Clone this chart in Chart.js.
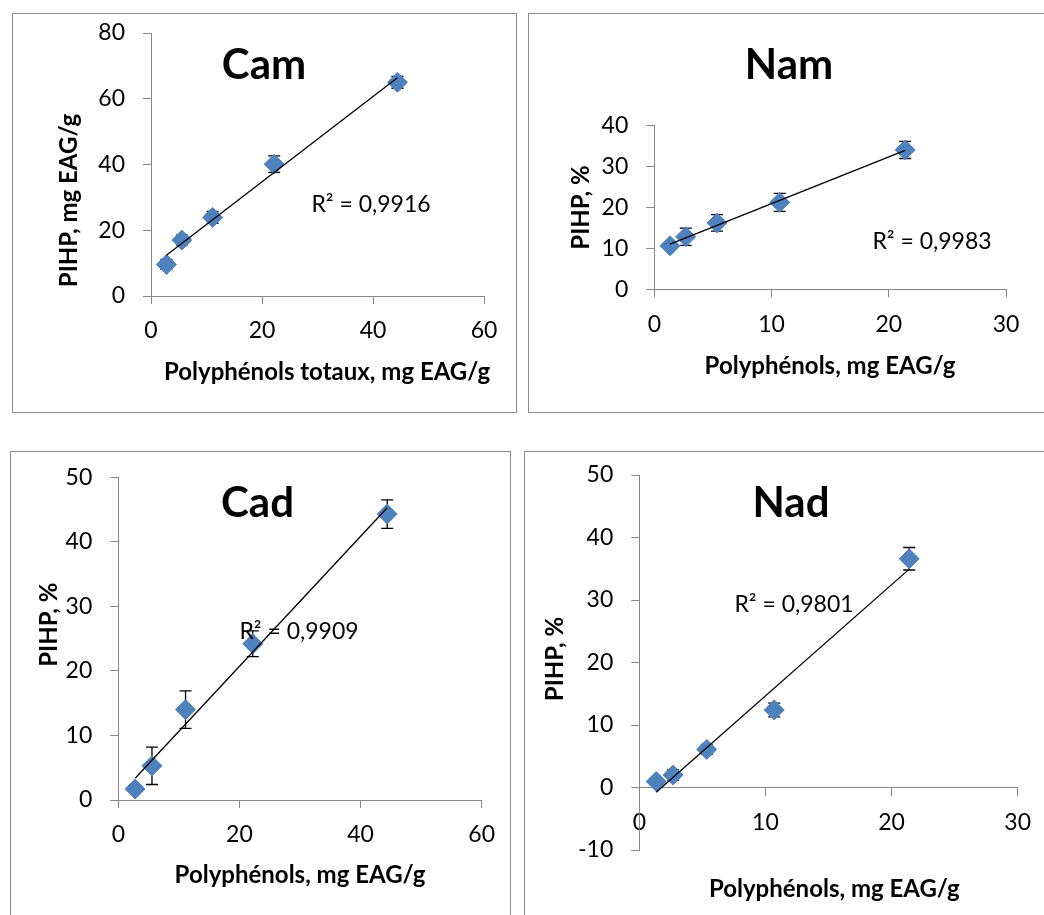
<!DOCTYPE html>
<html><head><meta charset="utf-8">
<script src="https://cdn.jsdelivr.net/npm/chart.js@4.4.1/dist/chart.umd.min.js"></script>
<style>
html,body{margin:0;padding:0;background:#fff;width:1044px;height:915px;overflow:hidden;}
.panel{position:absolute;box-sizing:border-box;border:1px solid #8c8c8c;background:#fff;}
canvas{position:absolute;left:0;top:0;}
</style></head><body>
<div class="panel" style="left:12px;top:13px;width:505px;height:400px"></div>
<div class="panel" style="left:528px;top:13px;width:530px;height:400px"></div>
<div class="panel" style="left:10px;top:451px;width:501px;height:500px"></div>
<div class="panel" style="left:524px;top:451px;width:540px;height:500px"></div>
<canvas id="cam" width="1044" height="915"></canvas>
<canvas id="nam" width="1044" height="915"></canvas>
<canvas id="cad" width="1044" height="915"></canvas>
<canvas id="nad" width="1044" height="915"></canvas>
<script>
// ---- data ----
const camX = [2.78, 5.56, 11.1, 22.2, 44.4];
const camY = [9.6, 17.0, 23.9, 40.1, 65.0];
const camErr = [1.5, 1.5, 1.8, 2.5, 1.8];
const namX = [1.34, 2.68, 5.35, 10.7, 21.4];
const namY = [10.6, 12.8, 16.2, 21.2, 34.0];
const namErr = [0.5, 2.1, 2.0, 2.2, 2.1];
const cadX = [2.78, 5.56, 11.1, 22.2, 44.4];
const cadY = [1.7, 5.3, 14.0, 24.2, 44.3];
const cadErr = [0.5, 2.9, 2.9, 2.0, 2.2];
const nadX = [1.34, 2.68, 5.35, 10.7, 21.4];
const nadY = [0.96, 2.0, 6.1, 12.4, 36.6];
const nadErr = [0.5, 0.8, 0.8, 1.1, 1.8];

const camXTicks = [0, 20, 40, 60];
const camYTicks = [0, 20, 40, 60, 80];
const namXTicks = [0, 10, 20, 30];
const namYTicks = [0, 10, 20, 30, 40];
const cadXTicks = [0, 20, 40, 60];
const cadYTicks = [0, 10, 20, 30, 40, 50];
const nadXTicks = [0, 10, 20, 30];
const nadYTicks = [-10, 0, 10, 20, 30, 40, 50];

const titles = ['Cam', 'Nam', 'Cad', 'Nad'];
const r2Labels = ['R² = 0,9916', 'R² = 0,9983', 'R² = 0,9909', 'R² = 0,9801'];
const xTitles = ['Polyphénols totaux, mg EAG/g', 'Polyphénols, mg EAG/g', 'Polyphénols, mg EAG/g', 'Polyphénols, mg EAG/g'];
const yTitles = ['PIHP, mg EAG/g', 'PIHP, %', 'PIHP, %', 'PIHP, %'];

// ---- helpers ----
function linFit(xs, ys) {
  const n = xs.length;
  const mx = xs.reduce((a, b) => a + b, 0) / n;
  const my = ys.reduce((a, b) => a + b, 0) / n;
  let sxy = 0, sxx = 0;
  for (let i = 0; i < n; i++) { sxy += (xs[i] - mx) * (ys[i] - my); sxx += (xs[i] - mx) ** 2; }
  const b = sxy / sxx, a = my - b * mx;
  const x0 = Math.min(...xs), x1 = Math.max(...xs);
  return [{x: x0, y: a + b * x0}, {x: x1, y: a + b * x1}];
}

const AXIS = '#868686';
const MARK = '#4F81BD';

function axis(ticks, pad, fit, extra) {
  return Object.assign({
    type: 'linear',
    min: ticks[0], max: ticks[ticks.length - 1],
    afterBuildTicks: s => { s.ticks = ticks.map(v => ({value: v})); },
    grid: {display: true, drawOnChartArea: false, drawTicks: true, tickLength: 8, color: AXIS, lineWidth: 1},
    border: {display: true, color: AXIS, width: 1},
    ticks: {font: {family: 'Lato', size: 23}, color: '#000', padding: pad},
    afterFit: fit
  }, extra || {});
}

const errPlugin = {
  id: 'errBars',
  beforeDatasetsDraw(chart, args, opts) {
    const ctx = chart.ctx, xs = chart.scales.x, ys = chart.scales.y;
    const d = chart.data.datasets[1].data;
    ctx.save();
    ctx.strokeStyle = '#000';
    ctx.lineWidth = 1.3;
    d.forEach((p, i) => {
      const e = opts.err[i];
      const px = xs.getPixelForValue(p.x);
      const yt = ys.getPixelForValue(p.y + e), yb = ys.getPixelForValue(p.y - e);
      ctx.beginPath();
      ctx.moveTo(px, yt); ctx.lineTo(px, yb);
      ctx.moveTo(px - 6, yt); ctx.lineTo(px + 6, yt);
      ctx.moveTo(px - 6, yb); ctx.lineTo(px + 6, yb);
      ctx.stroke();
    });
    ctx.restore();
  }
};

const textPlugin = {
  id: 'overlayText',
  afterDraw(chart, args, opts) {
    const ctx = chart.ctx;
    (opts.items || []).forEach(it => {
      ctx.save();
      ctx.font = it.font;
      ctx.fillStyle = '#000';
      ctx.textAlign = 'center';
      ctx.textBaseline = 'alphabetic';
      ctx.translate(it.x, it.y);
      if (it.rot) ctx.rotate(-Math.PI / 2);
      ctx.fillText(it.text, 0, 0);
      ctx.restore();
    });
  }
};

function makeChart(id, xs, ys, err, xTicks, yTicks, padding, texts, xExtra) {
  const fitY = s => { s.width = 60; };
  const fitX = s => { s.height = 60; };
  return new Chart(document.getElementById(id), {
    type: 'scatter',
    data: {
      datasets: [
        {data: linFit(xs, ys), showLine: true, borderColor: '#000', borderWidth: 1.3, pointRadius: 0, fill: false},
        {data: xs.map((x, i) => ({x, y: ys[i]})), pointStyle: 'rectRot', pointRadius: 10, pointHoverRadius: 10,
         backgroundColor: MARK, borderColor: MARK, borderWidth: 1}
      ]
    },
    options: {
      responsive: false, animation: false, devicePixelRatio: 1,
      layout: {padding},
      plugins: {legend: {display: false}, tooltip: {enabled: false},
        errBars: {err}, overlayText: {items: texts}},
      scales: {
        x: axis(xTicks, 13, fitX, xExtra),
        y: axis(yTicks, 18, fitY)
      }
    },
    plugins: [errPlugin, textPlugin]
  });
}

const TF = 'bold 42px Lato', RF = '23px Lato', AF = 'bold 24px Lato';

makeChart('cam', camX, camY, camErr, camXTicks, camYTicks,
  {left: 91, top: 33, right: 560, bottom: 559},
  [{text: titles[0], x: 264, y: 79, font: TF},
   {text: r2Labels[0], x: 371, y: 212, font: RF},
   {text: xTitles[0], x: 327, y: 380, font: AF},
   {text: yTitles[0], x: 76.5, y: 200.5, font: AF, rot: true}]);

makeChart('nam', namX, namY, namErr, namXTicks, namYTicks,
  {left: 594.3, top: 125.3, right: 38, bottom: 565.7},
  [{text: titles[1], x: 789, y: 79, font: TF},
   {text: r2Labels[1], x: 932, y: 249, font: RF},
   {text: xTitles[1], x: 830, y: 374, font: AF},
   {text: yTitles[1], x: 588.5, y: 207.5, font: AF, rot: true}]);

makeChart('cad', cadX, cadY, cadErr, cadXTicks, cadYTicks,
  {left: 58.3, top: 477.3, right: 562.3, bottom: 55},
  [{text: titles[2], x: 257.5, y: 516.7, font: TF},
   {text: r2Labels[2], x: 299, y: 639, font: RF},
   {text: xTitles[2], x: 300, y: 883.3, font: AF},
   {text: yTitles[2], x: 57, y: 624.7, font: AF, rot: true}]);

makeChart('nad', nadX, nadY, nadErr, nadXTicks, nadYTicks,
  {left: 579.3, top: 475, right: 16.7, bottom: 65},
  [{text: titles[3], x: 791, y: 516.7, font: TF},
   {text: r2Labels[3], x: 794, y: 612.3, font: RF},
   {text: xTitles[3], x: 834.3, y: 896.7, font: AF},
   {text: yTitles[3], x: 563, y: 659, font: AF, rot: true}],
  {position: {y: 0}});
</script>
</body></html>
